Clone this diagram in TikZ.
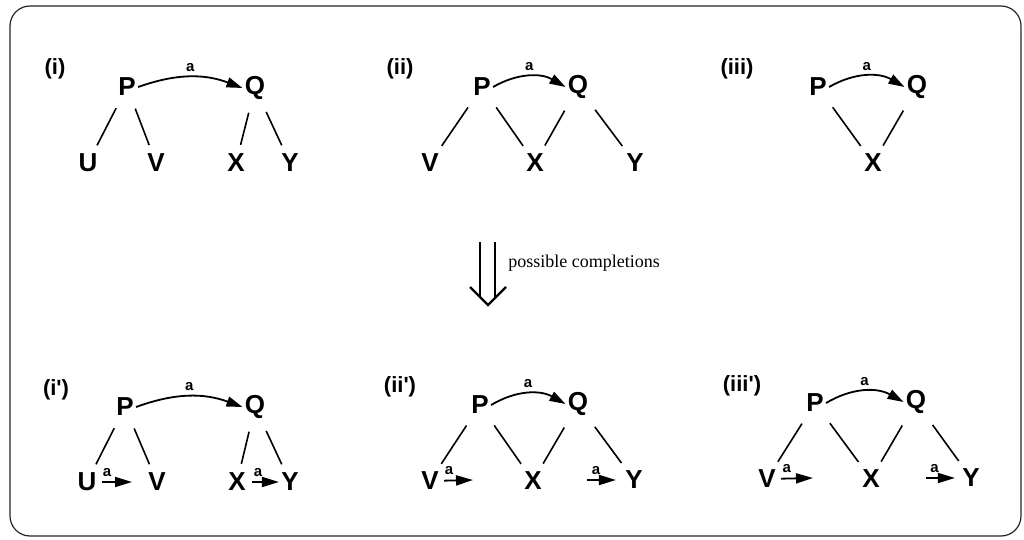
\documentclass[tikz,border=0pt]{standalone}
\usepackage{fontspec}
\setmainfont{Liberation Serif}
\setsansfont{Liberation Sans}
\usetikzlibrary{arrows.meta}
\begin{document}
\begin{tikzpicture}[x=0.5pt,y=0.5pt,
  lbl/.style={font=\sffamily\bfseries\fontsize{11}{13}\selectfont, inner sep=0pt},
  vtx/.style={font=\sffamily\bfseries\fontsize{13}{15}\selectfont, inner sep=1pt},
  edge/.style={line width=0.8pt, shorten <=5.5pt, shorten >=3.5pt},
  arc/.style={line width=0.9pt, -{Triangle[length=8pt,width=5pt]}},
  sarr/.style={line width=0.9pt, -{Triangle[length=8.5pt,width=5pt]}},
  alab/.style={font=\sffamily\bfseries\fontsize{7.5}{8}\selectfont, inner sep=0pt, above=2.4pt},
  txt/.style={font=\fontsize{9}{11}\selectfont, inner sep=0pt, anchor=west}
]
\useasboundingbox (0,0) rectangle (1024,-540);
\draw[line width=0.6pt, black!85, rounded corners=10pt] (10,-6) rectangle (1021,-536);

% ---------- (i)
\node[lbl] (Li) at (55,-69) {(i)};
\node[vtx] (P1) at (127,-87) {P};
\node[vtx] (Q1) at (255,-88) {Q};
\node[vtx] (U1) at (88,-163) {U};
\node[vtx] (V1) at (156,-163) {V};
\node[vtx] (X1) at (236,-163) {X};
\node[vtx] (Y1) at (290,-163) {Y};
\draw[arc] (P1.east) to[bend left=20] node[midway,alab] {a} (Q1.west);
\draw[edge] (P1) -- (U1);
\draw[edge] (P1) -- (V1);
\draw[edge] (Q1) -- (X1);
\draw[edge] (Q1) -- (Y1);

% ---------- (ii)
\node[lbl] (Lii) at (400,-69) {(ii)};
\node[vtx] (P2) at (482,-87) {P};
\node[vtx] (Q2) at (578,-87) {Q};
\node[vtx] (V2) at (430,-163) {V};
\node[vtx] (X2) at (535,-163) {X};
\node[vtx] (Y2) at (635,-163) {Y};
\draw[arc] (P2.east) to[bend left=30] node[midway,alab] {a} (Q2.west);
\draw[edge] (P2) -- (V2);
\draw[edge] (P2) -- (X2);
\draw[edge] (Q2) -- (X2);
\draw[edge] (Q2) -- (Y2);

% ---------- (iii)
\node[lbl] (Liii) at (737,-69) {(iii)};
\node[vtx] (P3) at (818,-87) {P};
\node[vtx] (Q3) at (917,-87) {Q};
\node[vtx] (X3) at (873,-163) {X};
\draw[arc] (P3.east) to[bend left=30] node[midway,alab] {a} (Q3.west);
\draw[edge] (P3) -- (X3);
\draw[edge] (Q3) -- (X3);

% ---------- middle double arrow
\coordinate (DA1) at (480,-242);
\coordinate (DA2) at (495,-242);
\coordinate (DB1) at (480,-297);
\coordinate (DB2) at (495,-298);
\coordinate (DL) at (470,-287);
\coordinate (DT) at (488,-305);
\coordinate (DR) at (506,-287);
\draw[line width=1.2pt] (DA1) -- (DB1);
\draw[line width=1.2pt] (DA2) -- (DB2);
\draw[line width=1.2pt, line join=miter] (DL) -- (DT) -- (DR);
\node[txt] (PC) at (508,-263) {possible completions};

% ---------- (i')
\node[lbl] (Li2) at (56,-390) {(i\textquotesingle)};
\node[vtx] (P4) at (125,-407) {P};
\node[vtx] (Q4) at (255,-407) {Q};
\node[vtx] (U4) at (87,-482) {U};
\node[vtx] (V4) at (157,-482) {V};
\node[vtx] (X4) at (237,-482) {X};
\node[vtx] (Y4) at (290,-482) {Y};
\draw[arc] (P4.east) to[bend left=20] node[midway,alab] {a} (Q4.west);
\draw[edge] (P4) -- (U4);
\draw[edge] (P4) -- (V4);
\draw[edge] (Q4) -- (X4);
\draw[edge] (Q4) -- (Y4);
\coordinate (e4) at (132,-482);
\coordinate (s4) at (252,-482);
\draw[sarr, shorten <=1.5pt] (U4) -- node[pos=0.25,alab] {a} (e4);
\draw[sarr] (s4) -- node[pos=0.22,alab] {a} (Y4);

% ---------- (ii')
\node[lbl] (Lii2) at (400,-387) {(ii\textquotesingle)};
\node[vtx] (P5) at (480,-405) {P};
\node[vtx] (Q5) at (578,-404) {Q};
\node[vtx] (V5) at (430,-481) {V};
\node[vtx] (X5) at (533,-481) {X};
\node[vtx] (Y5) at (634,-480) {Y};
\draw[arc] (P5.east) to[bend left=30] node[midway,alab] {a} (Q5.west);
\draw[edge] (P5) -- (V5);
\draw[edge] (P5) -- (X5);
\draw[edge] (Q5) -- (X5);
\draw[edge] (Q5) -- (Y5);
\coordinate (e5) at (473,-480);
\coordinate (s5) at (587,-480);
\draw[sarr, shorten <=1.5pt] (V5) -- node[pos=0.25,alab] {a} (e5);
\draw[sarr, shorten >=3.5pt] (s5) -- node[pos=0.25,alab] {a} (Y5);

% ---------- (iii')
\node[lbl] (Liii2) at (742,-386) {(iii\textquotesingle)};
\node[vtx] (P6) at (815,-403) {P};
\node[vtx] (Q6) at (916,-402) {Q};
\node[vtx] (V6) at (767,-479) {V};
\node[vtx] (X6) at (871,-479) {X};
\node[vtx] (Y6) at (971,-478) {Y};
\draw[arc] (P6.east) to[bend left=30] node[midway,alab] {a} (Q6.west);
\draw[edge] (P6) -- (V6);
\draw[edge] (P6) -- (X6);
\draw[edge] (Q6) -- (X6);
\draw[edge] (Q6) -- (Y6);
\coordinate (e6) at (813,-478);
\coordinate (s6) at (926,-478);
\draw[sarr, shorten <=1.5pt] (V6) -- node[pos=0.25,alab] {a} (e6);
\draw[sarr, shorten >=2.5pt] (s6) -- node[pos=0.25,alab] {a} (Y6);
\end{tikzpicture}
\end{document}
